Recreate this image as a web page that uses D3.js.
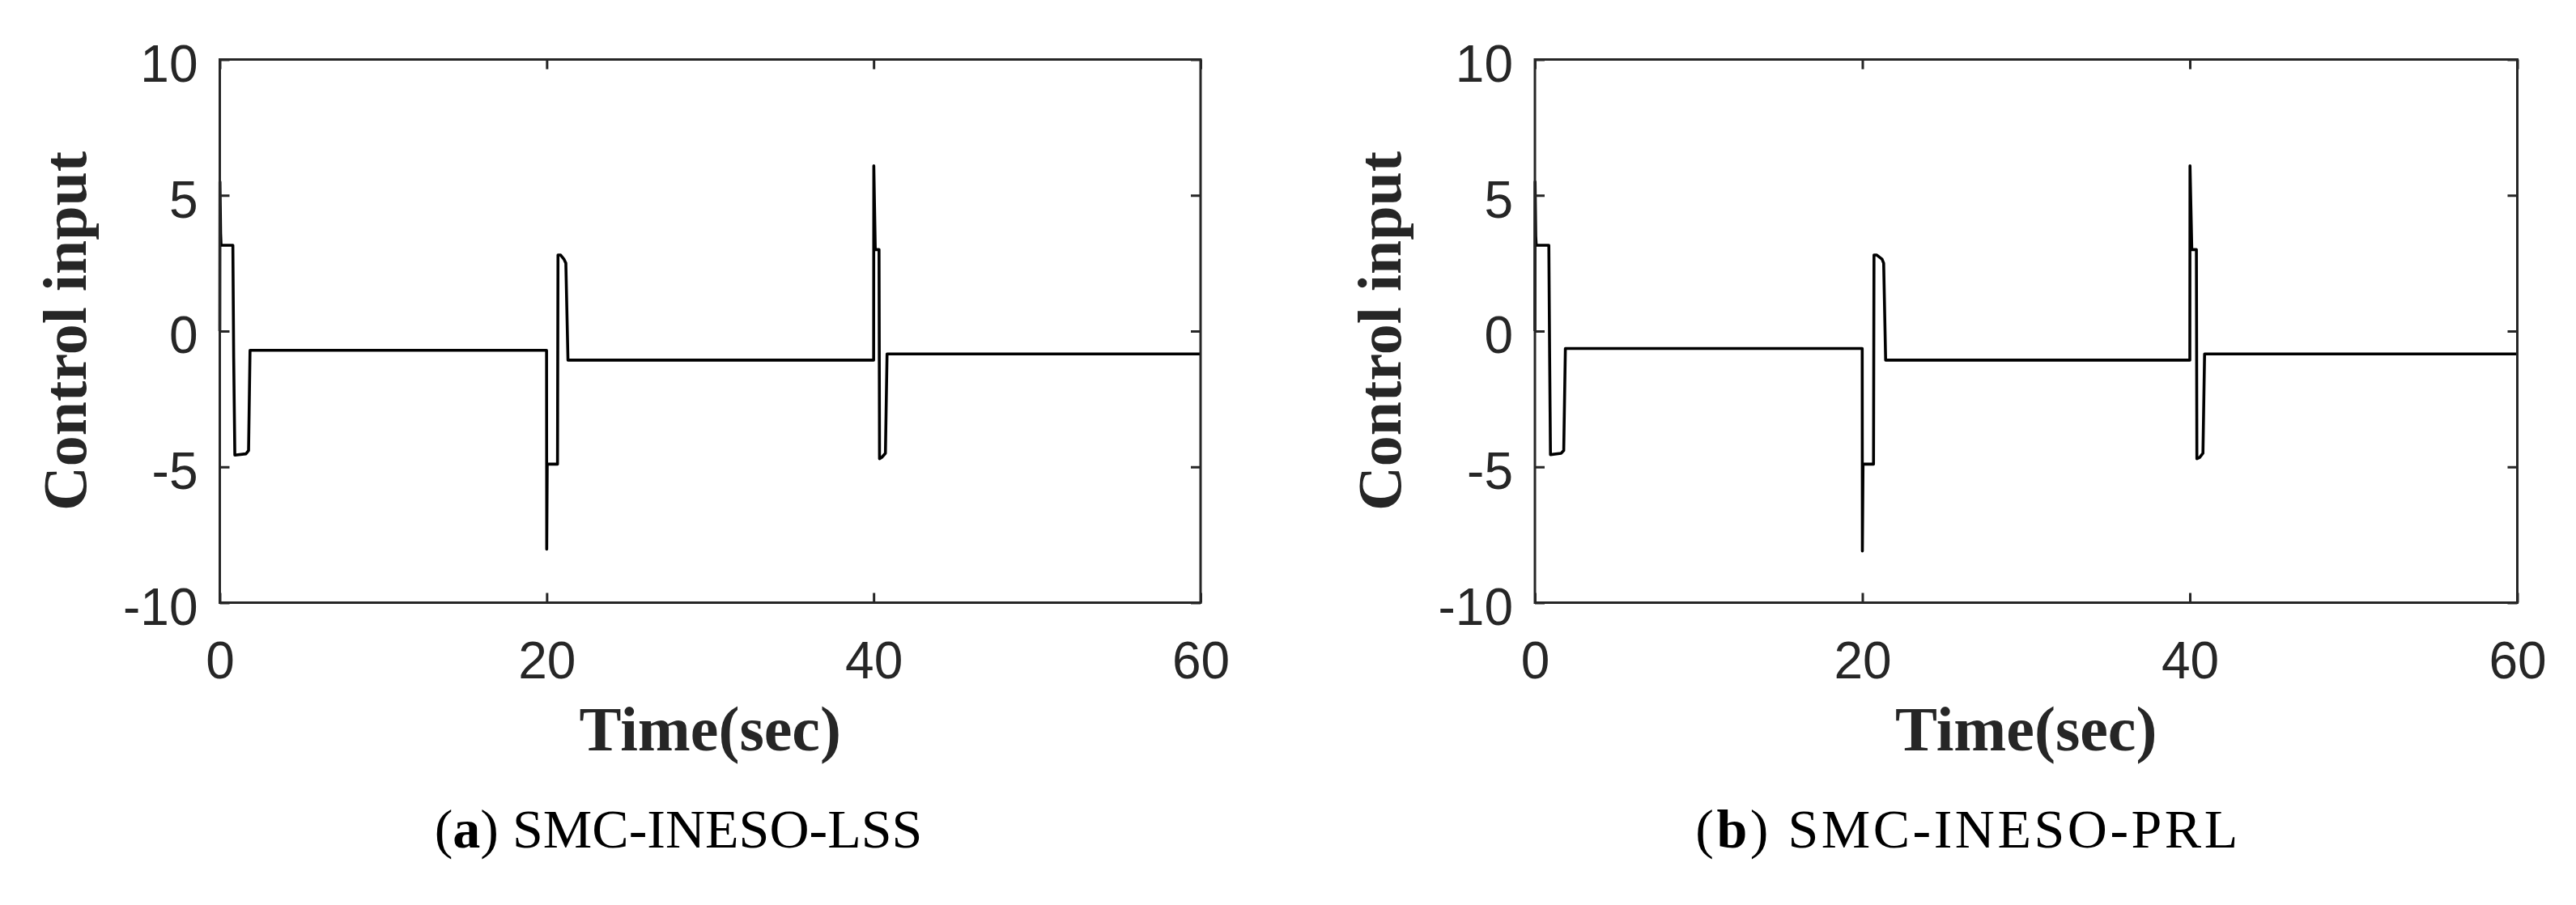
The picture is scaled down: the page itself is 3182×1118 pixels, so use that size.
<!DOCTYPE html>
<html>
<head>
<meta charset="utf-8">
<script src="https://cdn.jsdelivr.net/npm/d3@7"></script>
<style>
  html, body { margin: 0; padding: 0; background: #fff; }
  svg { display: block; }
</style>
</head>
<body>
<script>
// ---- Data ----
const xTicks = [0, 20, 40, 60];
const yTicks = [-10, -5, 0, 5, 10];
const xDomain = [0, 60];
const yDomain = [-10, 10];

// Panel (a) SMC-INESO-LSS
const lssTime = [0, 0.01, 0.05, 0.08, 0.8, 0.85, 0.92, 1.6, 1.76, 1.85, 19.99, 20.0, 20.03, 20.66, 20.69, 20.85, 21.05, 21.17, 21.3, 40.0, 40.01, 40.1, 40.33, 40.36, 40.5, 40.72, 40.82, 60];
const lssValue = [0, 5.5, 3.6, 3.16, 3.16, -1.0, -4.57, -4.52, -4.4, -0.71, -0.71, -8.03, -4.9, -4.9, 2.8, 2.8, 2.65, 2.5, -1.07, -1.07, 6.09, 3.0, 3.0, -4.7, -4.65, -4.5, -0.84, -0.84];

// Panel (b) SMC-INESO-PRL
const prlTime = [0, 0.01, 0.05, 0.08, 0.85, 0.9, 0.95, 1.6, 1.76, 1.86, 19.99, 20.0, 20.04, 20.68, 20.71, 20.88, 21.2, 21.3, 21.42, 40.0, 40.01, 40.12, 40.4, 40.43, 40.6, 40.8, 40.9, 60];
const prlValue = [0, 5.5, 3.5, 3.16, 3.16, -1.0, -4.55, -4.5, -4.4, -0.64, -0.64, -8.1, -4.9, -4.9, 2.8, 2.8, 2.65, 2.5, -1.07, -1.07, 6.09, 3.0, 3.0, -4.7, -4.65, -4.5, -0.84, -0.84];

const yLabel = "Control input";
const xLabel = "Time(sec)";
const captions = [["(", "a", ") SMC-INESO-LSS"], ["(", "b", ") SMC-INESO-PRL"]];

// ---- Layout ----
const W = 3182, H = 1118;
const panels = [
  { left: 271.5, right: 1483, time: lssTime, value: lssValue, capX: 838, cap: captions[0], capSpacing: 0 },
  { left: 1896, right: 3109.5, time: prlTime, value: prlValue, capX: 2431, cap: captions[1], capSpacing: 3.5 }
];
const plotTop = 73.5, plotBottom = 744.5;
const axisColor = "#262626";

const svg = d3.select("body").append("svg")
  .attr("width", W).attr("height", H)
  .attr("viewBox", `0 0 ${W} ${H}`);
svg.append("rect").attr("width", W).attr("height", H).attr("fill", "#fff");

panels.forEach(p => {
  const x = d3.scaleLinear().domain(xDomain).range([p.left, p.right]);
  const y = d3.scaleLinear().domain(yDomain).range([plotBottom, plotTop]);
  const g = svg.append("g");

  // Data line
  const pts = p.time.map((t, i) => [t, p.value[i]]);
  g.append("path")
    .datum(pts)
    .attr("fill", "none")
    .attr("stroke", "#000")
    .attr("stroke-width", 3.6)
    .attr("stroke-linejoin", "round")
    .attr("d", d3.line().x(d => x(d[0])).y(d => y(d[1])));

  // Axes
  const fontTick = "'Liberation Sans', Arial, Helvetica, sans-serif";
  const ax = g.append("g").attr("transform", `translate(0,${plotBottom})`)
    .call(d3.axisBottom(x).tickValues(xTicks).tickSizeInner(-12).tickSizeOuter(0).tickPadding(48.5).tickFormat(d3.format("d")));
  const axT = g.append("g").attr("transform", `translate(0,${plotTop})`)
    .call(d3.axisTop(x).tickValues(xTicks).tickSizeInner(-12).tickSizeOuter(0).tickFormat(""));
  const ay = g.append("g").attr("transform", `translate(${p.left},0)`)
    .call(d3.axisLeft(y).tickValues(yTicks).tickSizeInner(-12).tickSizeOuter(0).tickPadding(27).tickFormat(d3.format("d")));
  const ayR = g.append("g").attr("transform", `translate(${p.right},0)`)
    .call(d3.axisRight(y).tickValues(yTicks).tickSizeInner(-12).tickSizeOuter(0).tickFormat(""));

  [ax, axT, ay, ayR].forEach(a => {
    a.select(".domain").remove();
    a.selectAll(".tick line").attr("stroke", axisColor).attr("stroke-width", 3);
    a.selectAll(".tick text")
      .attr("fill", axisColor)
      .style("font-family", fontTick)
      .style("font-size", "64px");
  });
  ay.selectAll(".tick text").attr("dy", "0.42em").text(d => String(d).replace("\u2212", "-"));

  // Box
  g.append("rect")
    .attr("x", p.left).attr("y", plotTop)
    .attr("width", p.right - p.left).attr("height", plotBottom - plotTop)
    .attr("fill", "none").attr("stroke", axisColor).attr("stroke-width", 3);

  // Axis labels
  const fontLab = "'Liberation Serif', 'Times New Roman', serif";
  g.append("text")
    .attr("x", (p.left + p.right) / 2).attr("y", 927)
    .attr("text-anchor", "middle")
    .attr("fill", axisColor)
    .style("font-family", fontLab).style("font-weight", "bold").style("font-size", "78px")
    .text(xLabel);
  g.append("text")
    .attr("transform", `translate(${p.left - 166},${(plotTop + plotBottom) / 2}) rotate(-90)`)
    .attr("text-anchor", "middle")
    .attr("fill", axisColor)
    .style("font-family", fontLab).style("font-weight", "bold").style("font-size", "76px")
    .text(yLabel);

  // Caption
  const cap = g.append("text")
    .attr("x", p.capX).attr("y", 1047)
    .attr("text-anchor", "middle")
    .attr("fill", "#000")
    .style("font-family", fontLab).style("font-size", "68px")
    .style("letter-spacing", p.capSpacing + "px");
  cap.append("tspan").text(p.cap[0]);
  cap.append("tspan").style("font-weight", "bold").text(p.cap[1]);
  cap.append("tspan").attr("xml:space", "preserve").text(p.cap[2]);
});
</script>
</body>
</html>
